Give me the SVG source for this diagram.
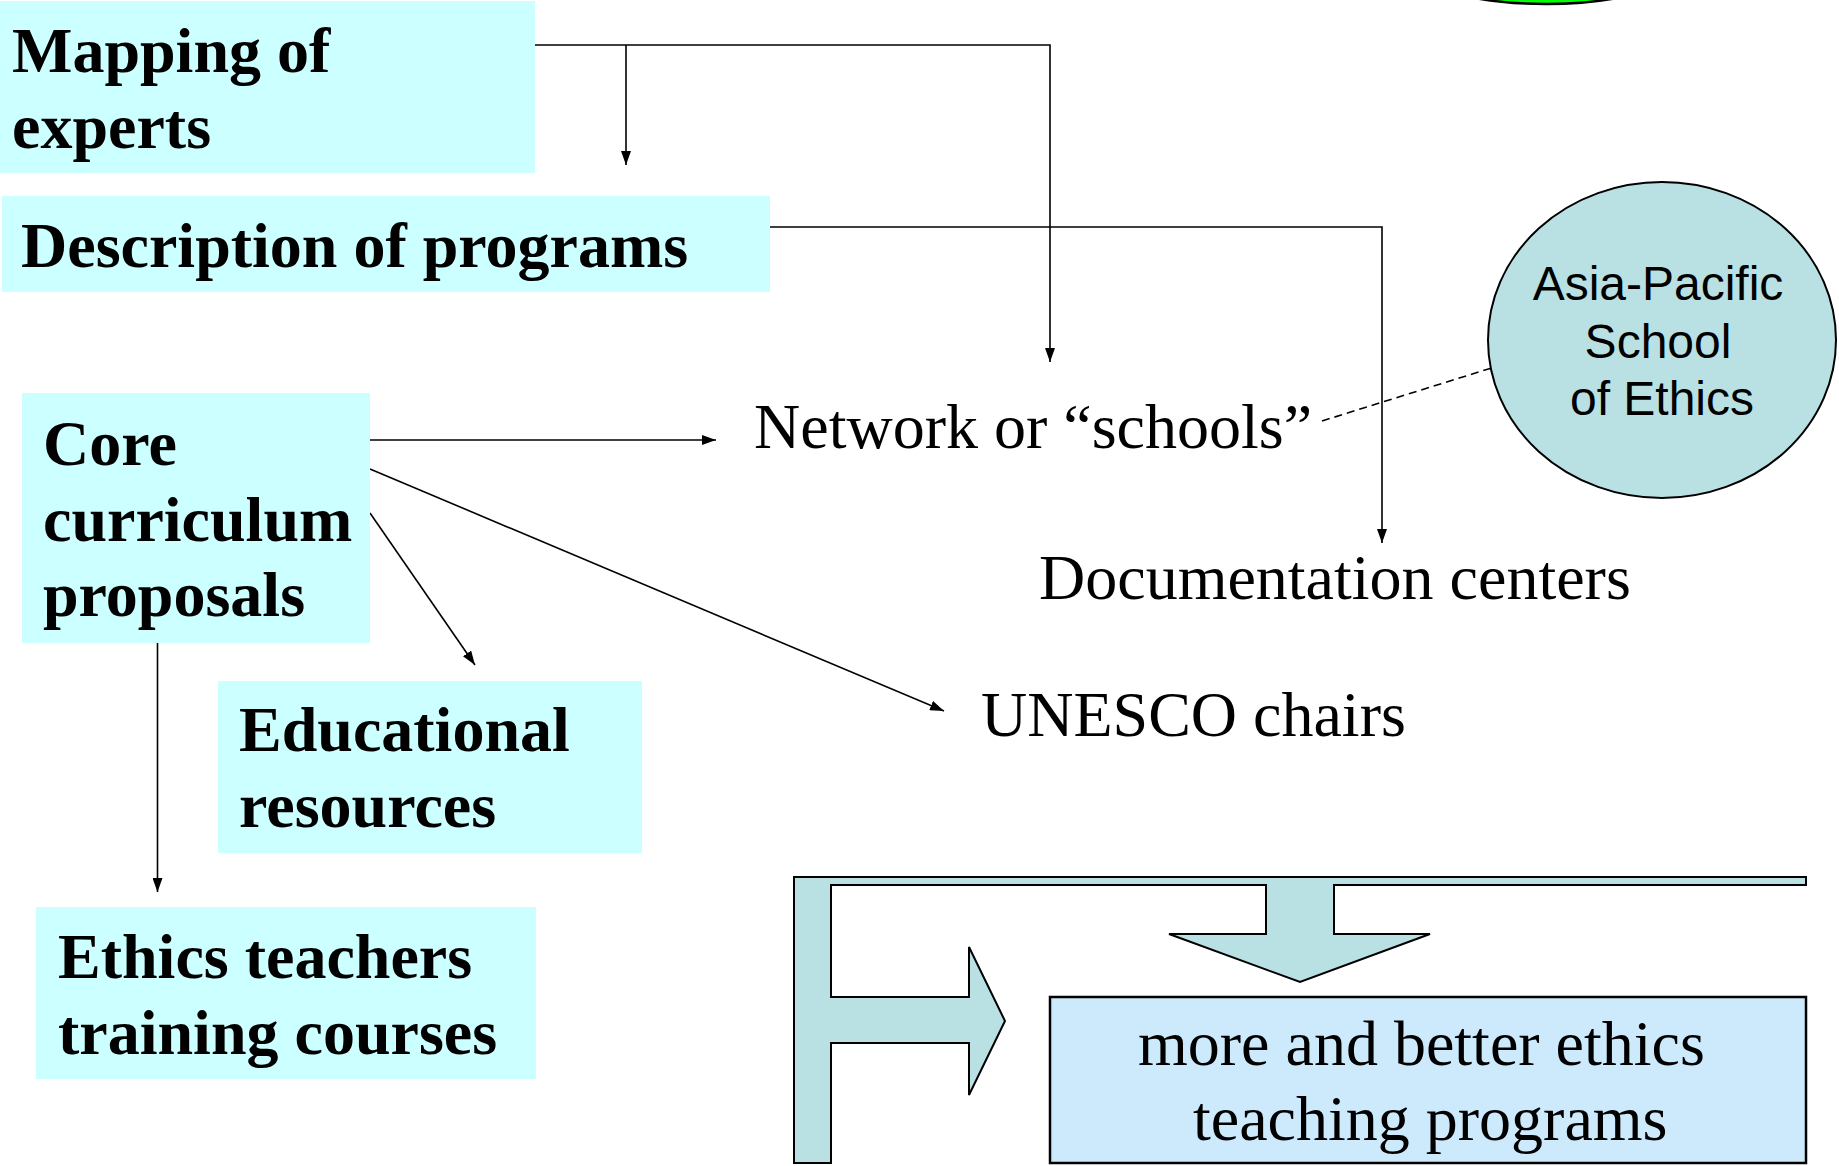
<svg xmlns="http://www.w3.org/2000/svg" width="1839" height="1166" viewBox="0 0 1839 1166">
<defs>
<style>
.box{fill:#ccffff;stroke:none}
.bt{font-family:"Liberation Serif","Times New Roman",serif;font-weight:bold;font-size:64px;fill:#000}
.rt{font-family:"Liberation Serif","Times New Roman",serif;font-size:64px;fill:#000}
.at{font-family:"Liberation Sans",Arial,sans-serif;font-size:48px;fill:#000}
.ln{fill:none;stroke:#000;stroke-width:1.6}
</style>
<marker id="ah" viewBox="0 0 14 10" refX="14" refY="5" markerWidth="14" markerHeight="10" markerUnits="userSpaceOnUse" orient="auto">
<path d="M0,0 L14,5 L0,10 Z" fill="#000"/>
</marker>
</defs>
<rect width="1839" height="1166" fill="#fff"/>
<g id="green-ellipse"><ellipse cx="1546" cy="-36" rx="134" ry="40" fill="#00ff00" stroke="#000" stroke-width="2.5"/></g>
<g id="connectors">
<polyline class="ln" points="535,45 1050,45 1050,362" marker-end="url(#ah)"/>
<line class="ln" x1="626" y1="45" x2="626" y2="165" marker-end="url(#ah)"/>
<polyline class="ln" points="770,227 1382,227 1382,543" marker-end="url(#ah)"/>
<line class="ln" x1="370" y1="440" x2="716" y2="440" marker-end="url(#ah)"/>
<line class="ln" x1="370" y1="469" x2="944" y2="711" marker-end="url(#ah)"/>
<line class="ln" x1="370" y1="513" x2="475" y2="665" marker-end="url(#ah)"/>
<line class="ln" x1="157.5" y1="635" x2="157.5" y2="892" marker-end="url(#ah)"/>
<line x1="1322" y1="421" x2="1501" y2="365" stroke="#000" stroke-width="1.6" stroke-dasharray="8,5"/>
</g>
<g id="mapping-of-experts">
<rect class="box" x="0" y="1" width="535" height="172"/>
<text class="bt" x="12" y="72">Mapping of</text>
<text class="bt" x="12" y="148">experts</text>
</g>
<g id="description-of-programs">
<rect class="box" x="2" y="196" width="768" height="96"/>
<text class="bt" x="21" y="267">Description of programs</text>
</g>
<g id="core-curriculum">
<rect class="box" x="22" y="393" width="348" height="250"/>
<text class="bt" x="43" y="465">Core</text>
<text class="bt" x="43" y="541">curriculum</text>
<text class="bt" x="43" y="616">proposals</text>
</g>
<g id="educational-resources">
<rect class="box" x="218" y="681" width="424" height="172"/>
<text class="bt" x="239" y="751">Educational</text>
<text class="bt" x="239" y="827">resources</text>
</g>
<g id="ethics-teachers">
<rect class="box" x="36" y="907" width="500" height="172"/>
<text class="bt" x="58" y="978">Ethics teachers</text>
<text class="bt" x="58" y="1054">training courses</text>
</g>
<g id="network"><text class="rt" x="754" y="448">Network or “schools”</text></g>
<g id="documentation"><text class="rt" x="1039" y="599">Documentation centers</text></g>
<g id="unesco"><text class="rt" x="981" y="736">UNESCO chairs</text></g>
<g id="asia-pacific">
<ellipse cx="1662" cy="340" rx="174" ry="158" fill="#b9e0e3" stroke="#000" stroke-width="2"/>
<text class="at" text-anchor="middle" x="1658" y="300">Asia-Pacific</text>
<text class="at" text-anchor="middle" x="1658" y="358">School</text>
<text class="at" text-anchor="middle" x="1662" y="415">of Ethics</text>
</g>
<g id="big-arrow">
<polygon points="794,877 1806,877 1806,885 1334,885 1334,934 1430,934 1300,982 1169,934 1266,934 1266,885 831,885 831,997 969,997 969,947 1005,1021 969,1095 969,1043 831,1043 831,1163 794,1163" fill="#b9e0e3" stroke="#000" stroke-width="2" stroke-linejoin="miter"/>
</g>
<g id="result">
<rect x="1050" y="997" width="756" height="166" fill="#cdeafd" stroke="#000" stroke-width="2.5"/>
<text class="rt" x="1138" y="1065">more and better ethics</text>
<text class="rt" x="1193" y="1140">teaching programs</text>
</g>
</svg>
